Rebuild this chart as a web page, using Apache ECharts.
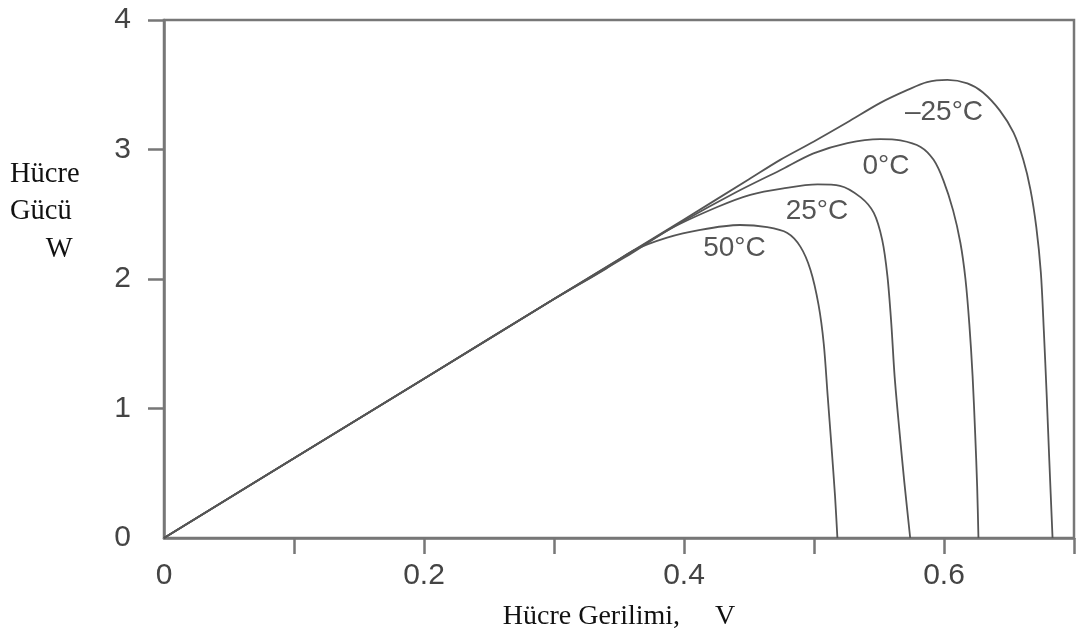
<!DOCTYPE html>
<html><head><meta charset="utf-8">
<script src="https://cdn.jsdelivr.net/npm/echarts@6/dist/echarts.min.js"></script>
<style>html,body{margin:0;padding:0;background:#fff}#c{width:1080px;height:638px}</style>
</head><body><div id="c"></div>
<script>
// Axis ticks / labels
const xTickValues = [0.1, 0.2, 0.3, 0.4, 0.5, 0.6, 0.7];
const xLabelValues = [0, 0.2, 0.4, 0.6];
const yTickValues = [1, 2, 3, 4];
const yLabelValues = [0, 1, 2, 3, 4];

// Series (temperature curves)
const seriesNames = ['–25°C', '0°C', '25°C', '50°C'];

const voltM25  = [0, 0.1, 0.2, 0.3, 0.4, 0.45, 0.474, 0.4996, 0.5257, 0.551, 0.572, 0.587, 0.6026, 0.618, 0.630, 0.643, 0.6535, 0.661, 0.6665, 0.671, 0.6745, 0.6768, 0.679, 0.681, 0.6835];
const powerM25 = [0, 0.615, 1.23, 1.845, 2.46, 2.77, 2.92, 3.06, 3.21, 3.36, 3.46, 3.52, 3.537, 3.51, 3.44, 3.30, 3.13, 2.92, 2.69, 2.40, 2.05, 1.60, 1.10, 0.60, 0];

const volt0  = [0, 0.1, 0.2, 0.3, 0.36, 0.40, 0.44, 0.474, 0.4996, 0.5257, 0.551, 0.5665, 0.582, 0.592, 0.5996, 0.607, 0.6126, 0.6165, 0.6195, 0.622, 0.624, 0.6255, 0.6265];
const power0 = [0, 0.615, 1.23, 1.845, 2.21, 2.45, 2.67, 2.84, 2.97, 3.05, 3.08, 3.07, 3.02, 2.92, 2.76, 2.53, 2.28, 2.00, 1.65, 1.25, 0.80, 0.40, 0];

const volt25  = [0, 0.1, 0.2, 0.3, 0.36, 0.39, 0.4256, 0.451, 0.4765, 0.5027, 0.520, 0.536, 0.546, 0.5525, 0.5565, 0.5595, 0.562, 0.5655, 0.5695, 0.574];
const power25 = [0, 0.615, 1.23, 1.845, 2.20, 2.39, 2.556, 2.65, 2.70, 2.73, 2.72, 2.63, 2.51, 2.30, 2.02, 1.65, 1.25, 0.85, 0.43, 0];

const volt50  = [0, 0.1, 0.2, 0.3, 0.34, 0.361, 0.387, 0.4125, 0.443, 0.464, 0.4795, 0.4895, 0.4973, 0.5035, 0.5075, 0.5105, 0.5135, 0.5162, 0.518];
const power50 = [0, 0.615, 1.23, 1.845, 2.08, 2.22, 2.32, 2.38, 2.417, 2.40, 2.355, 2.25, 2.07, 1.80, 1.50, 1.10, 0.70, 0.32, 0];

// Curve annotation anchors (data units)
const labelVolt  = [0.600, 0.5554, 0.5023, 0.4388];
const labelPower = [3.286, 2.873, 2.521, 2.236];

const curves = [[voltM25, powerM25], [volt0, power0], [volt25, power25], [volt50, power50]];

const axisColor = '#777';
const tickFont = { fontFamily: 'Liberation Sans', fontSize: 30, color: '#444', lineHeight: 30 };

const series = curves.map(function (c, i) {
  return {
    name: seriesNames[i],
    type: 'line',
    data: c[0].map(function (v, j) { return [v, c[1][j]]; }),
    showSymbol: false,
    smooth: 0.3,
    lineStyle: { color: '#555', width: 1.8 },
    markPoint: {
      symbol: 'circle',
      symbolSize: 1,
      itemStyle: { color: 'rgba(0,0,0,0)' },
      label: {
        show: true, position: 'inside', formatter: seriesNames[i],
        fontFamily: 'Liberation Sans', fontSize: 28, color: '#555'
      },
      data: [{ coord: [labelVolt[i], labelPower[i]] }]
    },
    z: 3
  };
});

const chart = echarts.init(document.getElementById('c'), null, { renderer: 'canvas' });
chart.setOption({
  animation: false,
  backgroundColor: '#fff',
  grid: { left: 164, right: 6, top: 20, bottom: 100, show: true, borderColor: axisColor, borderWidth: 2.5, backgroundColor: 'transparent' },
  xAxis: {
    type: 'value', min: 0, max: 0.7, interval: 0.1,
    name: 'Hücre Gerilimi,     V',
    nameLocation: 'middle', nameGap: 65,
    nameTextStyle: { fontFamily: 'Liberation Serif', fontSize: 28, color: '#111', lineHeight: 28 },
    axisLine: { show: true, lineStyle: { color: axisColor, width: 2.5 } },
    axisTick: { show: true, length: 16, customValues: xTickValues, lineStyle: { color: axisColor, width: 2.5 } },
    axisLabel: Object.assign({ margin: 23, customValues: xLabelValues }, tickFont),
    splitLine: { show: false }
  },
  yAxis: {
    type: 'value', min: 0, max: 4, interval: 1,
    name: 'Hücre\nGücü\n     W\n{gap| }',
    nameLocation: 'middle', nameRotate: 0, nameGap: 154,
    nameTextStyle: {
      fontFamily: 'Liberation Serif', fontSize: 28.5, color: '#111', align: 'left', lineHeight: 37.5,
      rich: { gap: { height: 134, lineHeight: 134, fontSize: 10 } }
    },
    axisLine: { show: true, lineStyle: { color: axisColor, width: 2.5 } },
    axisTick: { show: true, length: 16, customValues: yTickValues, lineStyle: { color: axisColor, width: 2.5 } },
    axisLabel: Object.assign({ margin: 33, customValues: yLabelValues }, tickFont),
    splitLine: { show: false }
  },
  series: series
});
</script>
</body></html>
